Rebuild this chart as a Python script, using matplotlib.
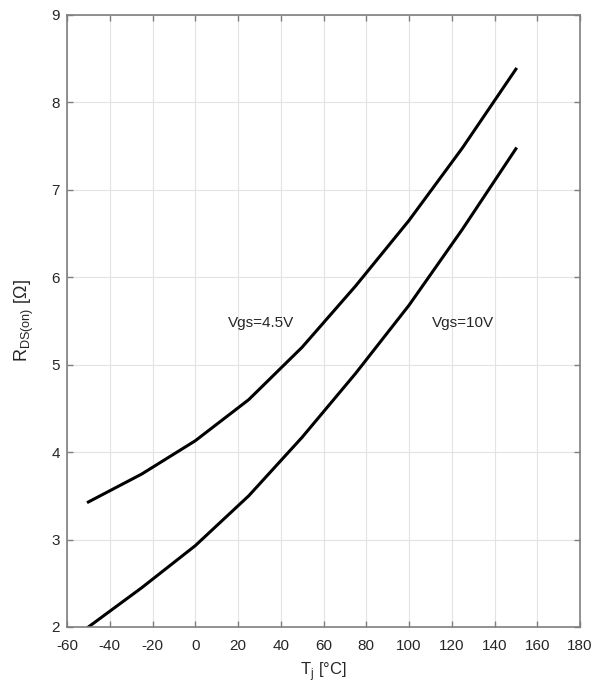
import matplotlib
matplotlib.use("Agg")
from matplotlib import pyplot as plt

plt.rcParams['font.family'] = ['Liberation Sans', 'DejaVu Sans']
plt.rcParams['axes.unicode_minus'] = False

# junction temperature points (degC)
tj = [-50, -25, 0, 25, 50, 75, 100, 125, 150]
# on-resistance for the two gate drives (ohm)
rds_45v = [3.43, 3.75, 4.13, 4.60, 5.20, 5.90, 6.65, 7.48, 8.38]
rds_10v = [2.00, 2.45, 2.93, 3.50, 4.17, 4.90, 5.68, 6.55, 7.47]

xticks = [-60, -40, -20, 0, 20, 40, 60, 80, 100, 120, 140, 160, 180]
yticks = [2, 3, 4, 5, 6, 7, 8, 9]

fig = plt.figure(figsize=(6.04, 6.87), dpi=100)
ax = fig.add_axes([67/604, 60/687, 513/604, 612/687])

ax.plot(tj, rds_45v, color='black', linewidth=2.2)
ax.plot(tj, rds_10v, color='black', linewidth=2.2)

ax.text(15.5, 5.48, "Vgs=4.5V", fontsize=11, color='#262626', va='center', ha='left')
ax.text(110.5, 5.48, "Vgs=10V", fontsize=11, color='#262626', va='center', ha='left')

ax.set_xlim(-60, 180)
ax.set_ylim(2, 9)
ax.set_xticks(xticks)
ax.set_yticks(yticks)
ax.grid(True, color='#e3e3e3', linewidth=0.8)
ax.set_axisbelow(True)
for s in ax.spines.values():
    s.set_color('#7f7f7f')
    s.set_linewidth(1.2)
ax.tick_params(direction='in', length=4, width=1, color='#7f7f7f',
               labelsize=11, labelcolor='#262626', top=True, right=True)
ax.tick_params(axis='x', pad=9)
ax.tick_params(axis='y', pad=5)

ax.set_xlabel("T$_\\mathregular{j}$ [°C]", fontsize=12, color='#262626', labelpad=5)
ax.set_ylabel("R$_\\mathregular{DS(on)}$ [Ω]", fontsize=13, color='#262626', labelpad=11)

fig.savefig("out.png", dpi=100)
